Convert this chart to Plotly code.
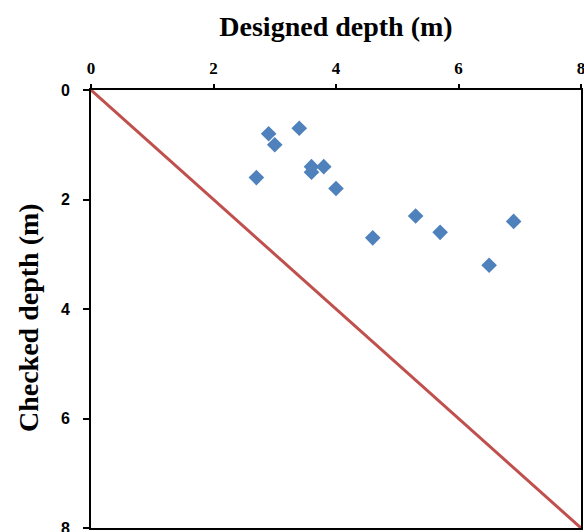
import plotly.graph_objects as go

# Measured pairs: designed vs. checked depth (m)
designed = [2.9, 3.0, 3.4, 2.7, 3.6, 3.6, 3.8, 4.0, 4.6, 5.3, 5.7, 6.5, 6.9]
checked = [0.8, 1.0, 0.7, 1.6, 1.4, 1.5, 1.4, 1.8, 2.7, 2.3, 2.6, 3.2, 2.4]

# 1:1 reference line
ref_x = [0, 8]
ref_y = [0, 8]

tick_vals = [0, 2, 4, 6, 8]

fig = go.Figure()
fig.add_trace(go.Scatter(
    x=ref_x, y=ref_y, mode="lines",
    line=dict(color="#C0504D", width=3),
    showlegend=False, cliponaxis=False,
))
fig.add_trace(go.Scatter(
    x=designed, y=checked, mode="markers",
    marker=dict(symbol="diamond", size=12, color="#4F81BD"),
    showlegend=False,
))

serif = "Liberation Serif, Times New Roman, serif"
sans = "Liberation Sans, Arial, sans-serif"

fig.update_layout(
    width=584, height=532,
    margin=dict(l=91, r=3, t=90, b=4),
    paper_bgcolor="white", plot_bgcolor="white",
    xaxis=dict(
        side="top", range=[0, 8], tickvals=tick_vals, automargin=False,
        showgrid=False, zeroline=False,
        showline=True, linecolor="black", linewidth=2, mirror=True,
        ticks="outside", ticklen=4, tickwidth=2, tickcolor="black",
        ticklabelstandoff=3, ticklabeloverflow="allow",
        tickfont=dict(family=serif, size=17, color="black", weight="bold"),
        title=dict(text="<b>Designed depth (m)</b>",
                   font=dict(family=serif, size=28, color="black"),
                   standoff=14),
    ),
    yaxis=dict(
        range=[8, 0], tickvals=tick_vals, automargin=False,
        showgrid=False, zeroline=False,
        showline=True, linecolor="black", linewidth=2, mirror=True,
        ticks="outside", ticklen=6, tickwidth=2, tickcolor="black",
        ticklabelstandoff=10, ticklabeloverflow="allow",
        tickfont=dict(family=sans, size=16, color="black", weight="bold"),
    ),
    annotations=[dict(
        text="<b>Checked depth (m)</b>", textangle=-90,
        xref="paper", yref="paper", x=-0.128, y=0.48,
        xanchor="center", yanchor="middle", showarrow=False,
        font=dict(family=serif, size=28, color="black"),
    )],
)

fig.write_html("out.html")
